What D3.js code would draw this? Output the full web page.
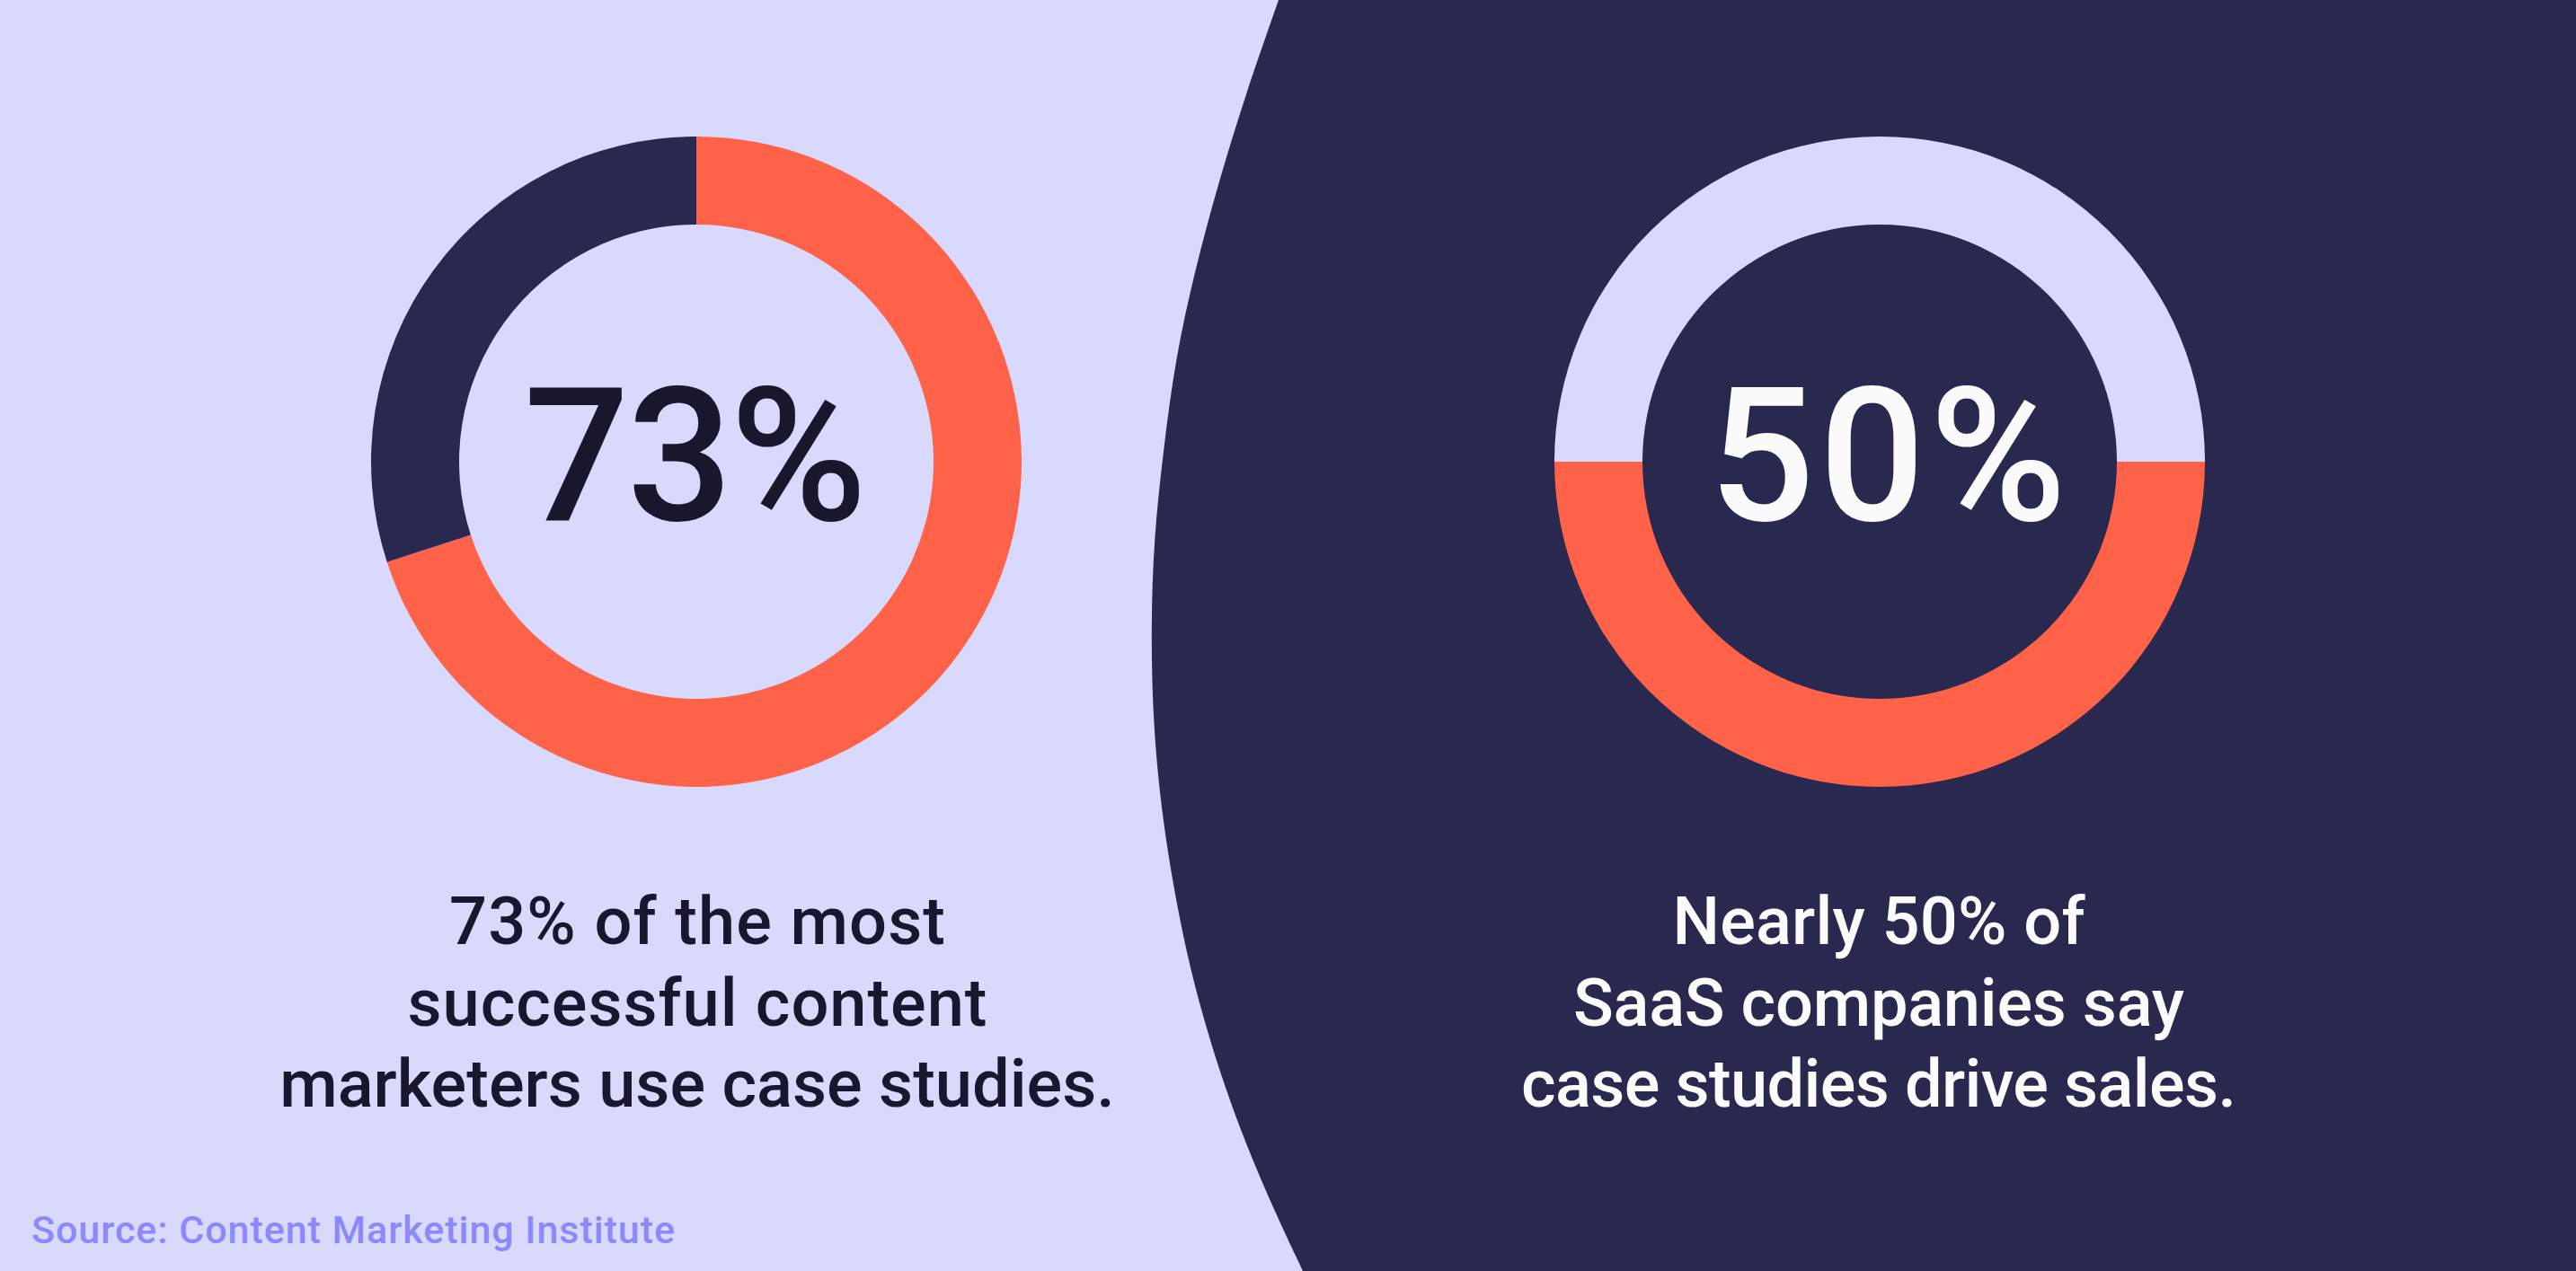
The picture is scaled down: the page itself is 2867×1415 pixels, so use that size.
<!DOCTYPE html>
<html><head><meta charset="utf-8">
<script src="https://cdn.jsdelivr.net/npm/d3@7"></script>
<style>html,body{margin:0;padding:0;background:#d9d9fe;overflow:hidden}svg{display:block}text{font-family:Roboto,Inter,"Noto Sans",sans-serif}</style>
</head><body>
<script>
// ---- data ----
const leftLabel = "73%";
const leftShares = [70, 30];            // drawn arc: orange, navy
const leftCategories = ["use case studies", "other"];
const rightLabel = "50%";
const rightShares = [50, 50];           // orange, lavender
const rightCategories = ["drive sales", "other"];
const leftCaption = ["73% of the most", "successful content", "marketers use case studies."];
const rightCaption = ["Nearly 50% of", "SaaS companies say", "case studies drive sales."];
const sourceText = "Source: Content Marketing Institute";
// background divider edge (decorative) [x, y]
const edgePts = [[1423,0],[1388,100],[1357,200],[1330,300],[1308,400],[1295,500],[1284,600],[1281,700],[1283,800],[1292,900],[1308,1000],[1329,1100],[1364,1215],[1403,1315],[1450,1415]];

const W = 2867, H = 1415;
const C = {lav:"#d9d9fe", navy:"#29284f", orange:"#fe634a", ink:"#17172e", src:"#8b89fd", white:"#fbfbfb"};

const svg = d3.select("body").append("svg").attr("width", W).attr("height", H);
svg.append("rect").attr("width", W).attr("height", H).attr("fill", C.lav);

// navy right region
const edge = d3.line().curve(d3.curveBasis);
svg.append("path")
  .attr("d", edge(edgePts) + `L${W+10},${H}L${W+10},0Z`)
  .attr("fill", C.navy);

const rOut = 362, rIn = 264;
const arc = d3.arc().innerRadius(rIn).outerRadius(rOut);

function donut(cx, cy, shares, colors, start) {
  const pie = d3.pie().sort(null).value(d => d).startAngle(start).endAngle(start + 2 * Math.PI);
  const g = svg.append("g").attr("transform", `translate(${cx},${cy})`);
  g.selectAll("path").data(pie(shares)).join("path")
    .attr("d", arc).attr("fill", (d, i) => colors[i]);
  return g;
}
donut(775, 514, leftShares, [C.orange, C.navy], 0);
donut(2092, 514, rightShares, [C.orange, C.lav], Math.PI / 2);

function fitText(t, target) {
  const w = t.node().getComputedTextLength();
  if (Math.abs(w - target) > 2) t.attr("textLength", target).attr("lengthAdjust", "spacing");
}

// big numbers
const big1 = svg.append("text").attr("x", 774).attr("y", 579).attr("text-anchor", "middle")
  .attr("font-size", 207).attr("font-weight", 500).attr("fill", C.ink).text(leftLabel);
fitText(big1, 382);
const big2 = svg.append("text").attr("x", 2101).attr("y", 579).attr("text-anchor", "middle")
  .attr("font-size", 207).attr("font-weight", 500).attr("fill", C.white).text(rightLabel);
fitText(big2, 398);

// captions
const baselines = [1051, 1142, 1232];
const leftW = [552, 645, 929];
const rightW = [459, 680, 796];
leftCaption.forEach((s, i) => {
  const t = svg.append("text").attr("x", 776).attr("y", baselines[i]).attr("text-anchor", "middle")
    .attr("font-size", 74).attr("font-weight", 500).attr("fill", C.ink).text(s);
  fitText(t, leftW[i]);
});
rightCaption.forEach((s, i) => {
  const t = svg.append("text").attr("x", 2091).attr("y", baselines[i]).attr("text-anchor", "middle")
    .attr("font-size", 74).attr("font-weight", 500).attr("fill", C.white).text(s);
  fitText(t, rightW[i]);
});

// source
const src = svg.append("text").attr("x", 35).attr("y", 1384)
  .attr("font-size", 43).attr("font-weight", 500).attr("fill", C.src).text(sourceText);
fitText(src, 716);
</script>
</body></html>
